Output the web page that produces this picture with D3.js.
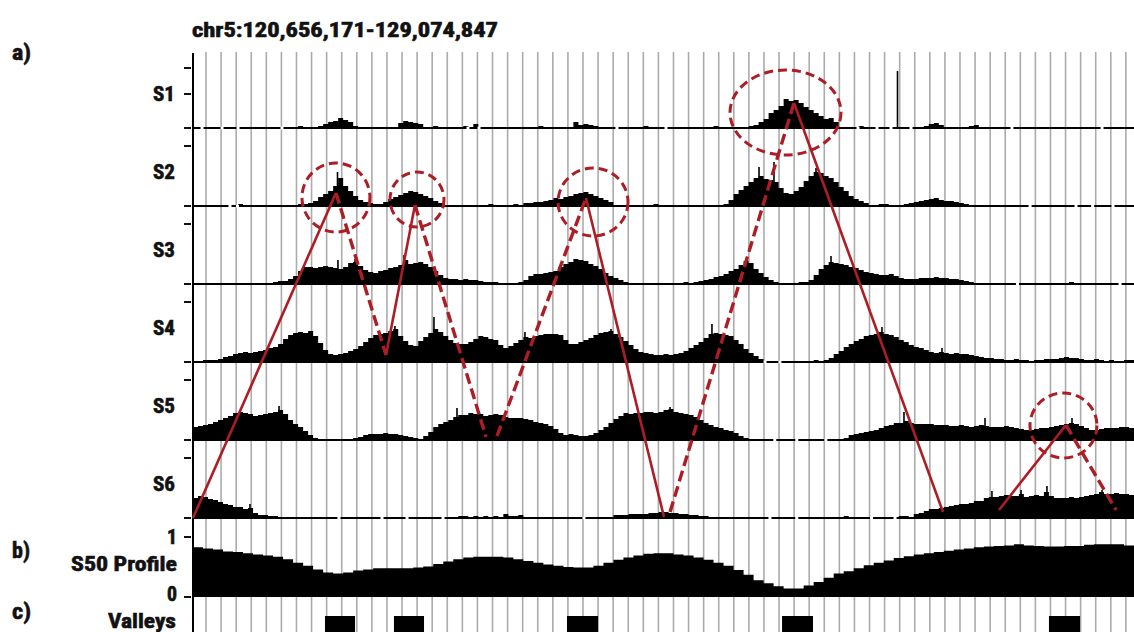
<!DOCTYPE html>
<html>
<head>
<meta charset="utf-8">
<script src="https://cdn.jsdelivr.net/npm/d3@7"></script>
<style>
  html, body { margin: 0; padding: 0; background: #fff; }
  svg { display: block; }
</style>
</head>
<body>
<svg id="chart" width="1134" height="632"></svg>
<script>
// ---- genomic window ----
const chrom = "chr5";
const regionStart = 120656171;
const regionEnd = 129074847;

// ---- read-density tracks (equal-width bins across the window) ----
const trackNames = ["S1", "S2", "S3", "S4", "S5", "S6"];

const s1 = [
  0,0,0,0,0,0,0,1,0,0,0,0,0,0,0,0,0,0,0,0,
  0,2,0,0,0,2,4,6,7,10,8,6,2,0,0,0,0,0,0,0,
  0,5,7,6,5,4,1,0,2,0,0,0,0,0,2,0,4,0,0,0,
  0,0,0,0,0,1,0,0,0,2,0,0,0,0,0,0,6,3,4,3,
  2,0,0,0,0,0,0,0,0,0,2,0,0,0,0,0,0,0,0,0,
  0,0,0,0,2,0,0,0,0,0,1,2,3,6,9,15,18,22,29,27,
  28,25,21,18,15,12,9,10,6,0,1,0,0,2,0,0,0,0,0,0,
  0,0,0,0,0,0,2,4,5,3,0,0,0,0,0,2,3,0,0,0,
  0,0,0,0,0,0,0,0,0,0,0,0,0,0,0,0,0,0,0,0,
  0,0,0,0,0,0,0,0
];
const s2 = [
  0,0,0,0,0,0,0,0,1,2,0,0,0,0,0,0,0,0,0,0,
  1,2,2,3,5,9,12,15,20,28,20,15,10,6,4,3,2,2,4,7,
  9,11,13,15,14,12,10,8,5,3,1,0,0,0,0,0,0,0,0,2,
  0,0,0,0,2,0,3,3,4,4,5,6,8,7,9,10,12,13,14,12,
  10,8,6,4,1,0,0,0,0,1,0,0,2,0,1,0,0,0,0,0,
  0,0,0,0,0,0,2,6,12,16,20,24,28,30,27,26,24,18,13,12,
  15,19,25,30,34,33,30,28,24,19,15,10,7,5,3,1,1,2,2,0,
  1,1,2,3,4,5,6,7,8,6,5,5,4,3,2,0,0,0,0,0,
  0,0,0,0,0,1,0,0,0,0,0,0,0,1,0,0,0,0,0,0,
  0,0,0,0,0,1,0,0
];
const s3 = [
  0,0,0,0,0,0,0,0,0,0,0,0,0,0,1,1,2,3,3,5,
  8,13,17,17,16,17,18,17,16,15,17,21,22,18,14,12,11,13,14,16,
  17,19,24,20,21,22,20,17,13,9,6,5,5,4,5,4,4,3,2,2,
  2,1,1,1,1,2,4,8,10,10,11,12,13,17,20,22,25,24,23,20,
  18,15,11,8,6,4,2,1,0,0,0,0,0,0,0,0,1,1,2,1,
  2,3,4,5,7,8,10,13,15,19,23,21,15,11,7,4,2,1,1,0,
  1,2,2,4,9,15,19,22,21,20,19,17,16,14,12,11,10,9,9,10,
  8,6,5,5,5,6,6,6,7,6,6,5,5,4,3,2,1,0,0,0,
  0,1,0,1,0,0,0,0,0,0,0,0,0,0,0,2,0,0,0,0,
  0,0,0,0,0,0,0,0
];
const s4 = [
  0,0,2,2,2,3,5,6,8,9,10,9,10,11,12,14,15,18,23,27,
  29,30,29,31,26,19,12,8,7,8,9,11,13,16,20,24,27,28,29,31,
  33,26,21,17,16,21,25,29,33,30,26,22,19,18,18,20,23,26,25,23,
  22,17,14,16,19,22,25,24,26,27,28,28,28,27,22,18,18,20,22,24,
  27,29,30,31,28,25,21,17,13,10,9,8,7,7,8,7,8,9,11,14,
  17,20,24,28,29,28,27,26,22,18,13,9,6,3,1,0,0,0,1,0,
  0,0,1,1,2,1,2,4,8,11,15,18,21,23,26,27,28,30,28,27,
  25,22,20,17,15,14,12,10,9,10,9,8,9,8,8,7,6,5,4,4,
  3,3,2,2,3,2,2,1,2,2,3,3,3,4,5,4,4,3,2,2,
  3,2,1,2,1,1,2,2
];
const s5 = [
  13,14,15,16,18,20,22,24,27,28,27,26,24,25,26,27,28,30,26,20,
  16,13,9,5,2,0,0,0,0,0,0,0,2,3,5,6,6,6,7,6,
  6,5,4,3,2,1,4,8,13,16,18,20,23,25,25,27,26,26,24,25,
  26,25,23,22,22,22,21,20,18,17,16,14,11,7,5,6,5,4,4,5,
  7,10,13,17,21,24,27,26,27,27,28,28,27,28,30,31,28,27,26,25,
  23,20,17,15,13,12,10,9,7,4,2,0,0,0,0,0,0,0,0,0,
  0,0,0,0,0,0,0,0,0,0,2,5,6,7,8,9,10,12,14,15,
  17,17,19,17,16,16,16,16,15,15,15,14,14,15,14,13,14,15,14,13,
  13,13,14,13,12,11,10,10,11,12,12,13,14,15,16,17,16,14,12,10,
  10,11,12,12,12,13,13,12
];
const s6 = [
  20,22,21,19,18,16,14,13,11,11,9,10,5,3,3,2,2,1,0,0,
  0,0,0,0,0,0,0,0,0,1,0,0,0,0,0,0,0,0,0,0,
  0,0,0,0,0,0,1,0,0,0,0,1,0,2,2,0,2,0,2,0,
  2,0,4,2,2,3,0,1,0,0,0,0,0,0,0,0,0,0,0,0,
  0,0,0,0,3,3,3,4,4,4,4,5,5,6,6,5,5,4,4,3,
  3,2,2,1,1,0,0,1,0,0,0,0,0,0,0,0,0,0,0,0,
  0,0,0,0,0,0,0,0,0,0,2,0,0,0,0,0,0,0,0,0,
  0,2,2,1,4,5,7,9,9,10,11,12,13,14,14,15,17,17,20,21,
  21,22,23,22,22,24,21,22,23,22,26,22,20,20,20,21,20,21,22,23,
  24,26,24,24,25,24,24,23
];
const trackValues = [s1, s2, s3, s4, s5, s6];
const trackMax = 60;
const trackTickValues = [[0, 34, 60], [0, 60], [0, 60], [0, 60], [0, 60], [0, 60]];

// single-position pileups narrower than a bin (track index, position in Mb, value)
const spikeTrack = [0, 1, 1, 1, 1, 2, 2, 2, 2, 2, 3, 3, 3, 3, 3, 3, 3,
                    4, 4, 4, 4, 4, 4, 5, 5, 5, 5, 5];
const spikePosMb = [126.959, 121.949, 125.720, 125.854, 126.230,
                    122.544, 126.364, 121.953, 122.106, 125.613,
                    122.463, 122.812, 124.396, 125.299, 126.820, 123.626, 127.357,
                    121.426, 123.018, 124.924, 127.017, 128.520, 127.742,
                    121.166, 128.296, 128.789, 127.804, 128.064];
const spikeValue = [57, 34, 39, 44, 38,
                    29, 28, 24, 25, 27,
                    36, 45, 33, 38, 35, 30, 14,
                    34, 32, 33, 28, 22, 22,
                    14, 32, 28, 27, 28];

// positions (Mb) with no coverage at all, per track
const gapsS1 = [120.737, 120.916, 121.059, 121.452, 123.116, 123.215, 124.449, 124.888,
                126.606, 126.776, 126.901, 127.080, 127.983, 128.789];
const gapsS2 = [120.987, 121.054, 128.145, 128.556, 128.705, 128.887];
const gapsS3 = [128.032, 128.950];
const gapsS4 = [125.774, 125.907];
const gapsS5 = [125.861, 126.058, 126.318];
const gapsS6 = [121.962, 122.347, 122.571, 122.893, 124.154, 125.818, 126.058, 126.727, 126.937];
const trackGaps = [gapsS1, gapsS2, gapsS3, gapsS4, gapsS5, gapsS6];

// ---- S50 profile (fraction, equal-width bins) ----
const profile = [
  0.83,0.81,0.79,0.76,0.75,0.73,0.71,0.69,0.67,0.63,
  0.57,0.52,0.46,0.41,0.39,0.41,0.44,0.46,0.48,0.48,
  0.48,0.48,0.49,0.51,0.55,0.59,0.63,0.66,0.67,0.67,
  0.67,0.66,0.63,0.60,0.57,0.54,0.52,0.50,0.49,0.49,
  0.52,0.57,0.62,0.66,0.69,0.72,0.73,0.73,0.71,0.69,
  0.66,0.62,0.57,0.52,0.45,0.37,0.28,0.23,0.18,0.14,
  0.14,0.19,0.25,0.32,0.39,0.43,0.48,0.53,0.57,0.61,
  0.65,0.68,0.71,0.73,0.75,0.77,0.79,0.81,0.83,0.84,
  0.85,0.86,0.88,0.86,0.85,0.84,0.84,0.85,0.85,0.87,
  0.88,0.88,0.88,0.86
];
const profileTickValues = [0, 1];
const profileTickLabels = ["0", "1"];

// ---- called valleys (start, end in Mb) ----
const valleyStartMb = [121.837, 122.454, 124.002, 125.926, 128.314];
const valleyEndMb   = [122.106, 122.723, 124.280, 126.203, 128.592];

// ---- guide lines every ~135 kb ----
const guideOffset = 116305;
const guideStep = 134913;

// ---- annotations: peak circles and the shifting-peak trace ----
const circlePosMb  = [125.957, 121.935, 122.660, 124.235, 128.444];
const circleTrack  = [0, 1, 1, 1, 4];
const circleValue  = [15.5, 8.5, 6.5, 4, 14.5];
const circleHalfMb = [0.4965, 0.304, 0.2416, 0.313, 0.2997];
const circleHalfV  = [42.5, 34.5, 27.5, 34, 32.5];

const tracePosMb = [120.656171, 121.935, 122.383, 122.642, 123.278, 123.376, 124.172,
                    124.870, 124.924, 126.033, 127.366, 127.867, 128.466, 128.914];
const traceTrack = [5, 1, 3, 1, 4, 4, 1, 5, 5, 0, 5, 5, 4, 5];
const traceValue = [0, 13, 7, 1, 3, 4, 8, 1, 6, 25, 6, 8, 15, 8];
// pairs of trace points and whether the connecting stroke is dashed
const traceFrom   = [0, 1, 2, 3, 5, 6, 8, 9, 11, 12];
const traceTo     = [1, 2, 3, 4, 6, 7, 9, 10, 12, 13];
const traceDashed = [false, true, false, true, true, false, true, false, false, true];

// ---- layout ----
const W = 1134, H = 632;
const plotLeft = 193, plotRight = 1134;
const firstBaseline = 128, trackPitch = 78, trackHeight = 60;
const profileBase = 597, profileTop = 537;
const valleyTop = 616;
const guideTop = 52;
const red = "#ad1d25";
const fontStack = "'Liberation Sans Narrow','Roboto Condensed','DejaVu Sans Condensed','Liberation Sans',Arial,sans-serif";

const svg = d3.select("#chart");
const x = d3.scaleLinear().domain([regionStart, regionEnd]).range([plotLeft, plotRight]);
const mb = v => v * 1e6;

const baselineOf = i => firstBaseline + i * trackPitch;
const yTrack = trackValues.map((_, i) =>
  d3.scaleLinear().domain([0, trackMax]).range([baselineOf(i), baselineOf(i) - trackHeight]));
const yProfile = d3.scaleLinear().domain([0, 1]).range([profileBase, profileTop]);

// guide lines
const guides = d3.range(regionStart + guideOffset, regionEnd, guideStep);
svg.append("g").selectAll("line").data(guides).join("line")
  .attr("x1", d => x(d)).attr("x2", d => x(d))
  .attr("y1", guideTop).attr("y2", H)
  .attr("stroke", "#ababab").attr("stroke-width", 1.6);

// density tracks
function binPoints(values) {
  const size = (regionEnd - regionStart) / values.length;
  const pts = values.map((v, i) => [regionStart + i * size, v]);
  pts.push([regionEnd, values[values.length - 1]]);
  return pts;
}

const tracksG = svg.append("g");
trackValues.forEach((vals, i) => {
  const y = yTrack[i];
  const area = d3.area()
    .x(d => x(d[0])).y0(baselineOf(i)).y1(d => y(d[1]))
    .curve(d3.curveStepAfter);
  tracksG.append("path").datum(binPoints(vals)).attr("d", area).attr("fill", "#000");
  tracksG.append("line")
    .attr("x1", plotLeft).attr("x2", plotRight)
    .attr("y1", baselineOf(i)).attr("y2", baselineOf(i))
    .attr("stroke", "#000").attr("stroke-width", 2);
  tracksG.selectAll(null).data(trackGaps[i]).join("rect")
    .attr("x", d => x(mb(d)) - 1.5).attr("width", 3)
    .attr("y", baselineOf(i) - 1.3).attr("height", 2.6)
    .attr("fill", "#fff");
});

// narrow spikes
tracksG.selectAll(".spike").data(spikePosMb.map((p, k) => ({ p, t: spikeTrack[k], v: spikeValue[k] })))
  .join("rect").attr("class", "spike")
  .attr("x", d => x(mb(d.p)) - 0.8).attr("width", 1.6)
  .attr("y", d => yTrack[d.t](d.v))
  .attr("height", d => baselineOf(d.t) - yTrack[d.t](d.v))
  .attr("fill", "#000");

// S50 profile
const profArea = d3.area()
  .x(d => x(d[0])).y0(profileBase).y1(d => yProfile(d[1]))
  .curve(d3.curveStepAfter);
svg.append("path").datum(binPoints(profile)).attr("d", profArea).attr("fill", "#000");

// valleys
svg.append("g").selectAll("rect").data(valleyStartMb.map((s, k) => [s, valleyEndMb[k]]))
  .join("rect")
  .attr("x", d => x(mb(d[0]))).attr("width", d => x(mb(d[1])) - x(mb(d[0])))
  .attr("y", valleyTop).attr("height", H - valleyTop + 2)
  .attr("fill", "#000");

// left axis and ticks
svg.append("line")
  .attr("x1", plotLeft).attr("x2", plotLeft).attr("y1", guideTop + 1).attr("y2", H)
  .attr("stroke", "#000").attr("stroke-width", 2);

const tickG = svg.append("g");
trackTickValues.forEach((ticks, i) => {
  tickG.selectAll(null).data(ticks).join("line")
    .attr("x1", 184).attr("x2", 191)
    .attr("y1", d => yTrack[i](d)).attr("y2", d => yTrack[i](d))
    .attr("stroke", "#111").attr("stroke-width", 2);
});
tickG.selectAll(null).data(profileTickValues).join("line")
  .attr("x1", 184).attr("x2", 191)
  .attr("y1", d => yProfile(d)).attr("y2", d => yProfile(d))
  .attr("stroke", "#111").attr("stroke-width", 2);

// text
function label(txt, xPos, yPos, size, anchor, width) {
  const t = svg.append("text")
    .attr("x", xPos).attr("y", yPos)
    .attr("font-family", fontStack).attr("font-weight", "bold")
    .attr("font-size", size).attr("text-anchor", anchor)
    .attr("fill", "#111").attr("stroke", "#111").attr("stroke-width", 0.6)
    .attr("paint-order", "stroke")
    .text(txt);
  if (width) t.attr("textLength", width).attr("lengthAdjust", "spacingAndGlyphs");
  return t;
}

label(`${chrom}:${d3.format(",")(regionStart)}-${d3.format(",")(regionEnd)}`, 192, 37, 20, "start", 306);
label("a)", 12, 60, 22, "start", 19);
label("b)", 12, 558, 22, "start", 18);
label("c)", 12, 619, 22, "start", 19);

trackNames.forEach((name, i) => {
  label(name, 175, baselineOf(i) - 27.5, 21, "end", 22);
});
label("S50 Profile", 177, 571, 21, "end", 106);
label("Valleys", 176, 628, 21, "end", 68);
profileTickValues.forEach((v, k) => {
  label(profileTickLabels[k], 177, yProfile(v) + (v === 1 ? 7 : 4), 20, "end", 10);
});

// annotations
const annG = svg.append("g");
const tracePt = k => [x(mb(tracePosMb[k])), yTrack[traceTrack[k]](traceValue[k])];

traceFrom.forEach((a, k) => {
  const p = tracePt(a), q = tracePt(traceTo[k]);
  annG.append("line")
    .attr("x1", p[0]).attr("y1", p[1]).attr("x2", q[0]).attr("y2", q[1])
    .attr("stroke", red)
    .attr("stroke-width", traceDashed[k] ? 3.4 : 2.6)
    .attr("stroke-dasharray", traceDashed[k] ? "11,5" : null)
    .attr("stroke-linecap", "butt");
});

circlePosMb.forEach((p, k) => {
  const cx = x(mb(p));
  const cy = yTrack[circleTrack[k]](circleValue[k]);
  annG.append("ellipse")
    .attr("cx", cx).attr("cy", cy)
    .attr("rx", x(mb(p + circleHalfMb[k])) - cx)
    .attr("ry", circleHalfV[k])
    .attr("fill", "none").attr("stroke", red)
    .attr("stroke-width", 3).attr("stroke-dasharray", "9,5");
});
</script>
</body>
</html>
